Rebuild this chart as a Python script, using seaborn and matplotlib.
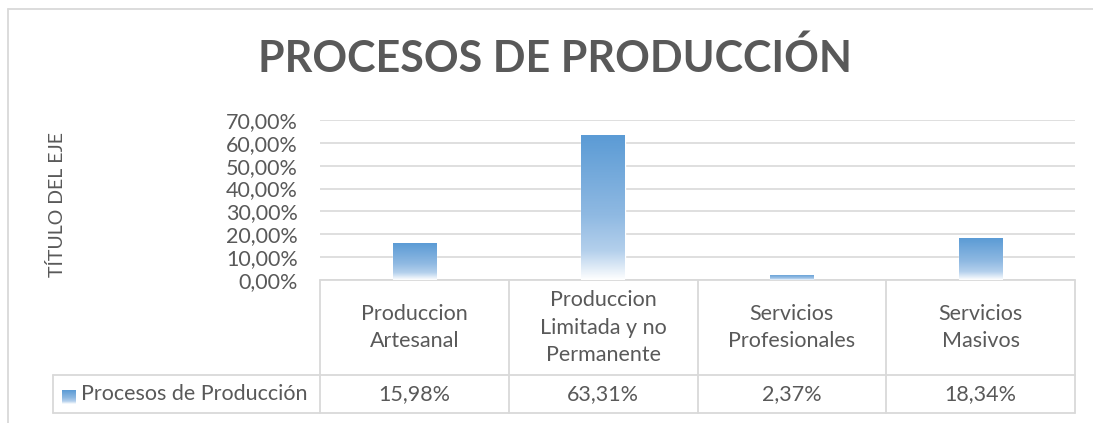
import matplotlib
matplotlib.use("Agg")
import matplotlib.pyplot as plt
import numpy as np
import pandas as pd
import seaborn as sns
from matplotlib.colors import LinearSegmentedColormap
from matplotlib.patches import Rectangle
from matplotlib.ticker import FuncFormatter

categories = ["Produccion\nArtesanal", "Produccion\nLimitada y no\nPermanente",
              "Servicios\nProfesionales", "Servicios\nMasivos"]
values = [0.1598, 0.6331, 0.0237, 0.1834]
value_labels = ["15,98%", "63,31%", "2,37%", "18,34%"]
series_name = "Procesos de Producción"
title = "PROCESOS DE PRODUCCIÓN"
y_title = "TÍTULO DEL EJE"

sns.set_style("white")
plt.rcParams["font.family"] = ["Lato", "DejaVu Sans"]

TEXT = "#595959"
GRID = "#d9d9d9"
BLUE = "#5b9bd5"
grad = LinearSegmentedColormap.from_list(
    "bar", [(0.0, "#ffffff"), (0.2, "#b4d0ec"), (0.45, "#8fb9e2"), (1.0, BLUE)])

W, H = 1093, 423
fig = plt.figure(figsize=(W / 100, H / 100), dpi=100)
ax = fig.add_axes([320 / W, (H - 280) / H, 755 / W, 160 / H])

df = pd.DataFrame({"cat": categories, "val": values})
sns.barplot(data=df, x="cat", y="val", ax=ax, color=BLUE, width=0.23, saturation=1)

# gradient fill clipped to each bar
grad_img = np.linspace(0, 1, 256).reshape(-1, 1)
for bar in ax.patches:
    x0, y0 = bar.get_x(), bar.get_y()
    w, h = bar.get_width(), bar.get_height()
    bar.set_facecolor("none")
    im = ax.imshow(grad_img, cmap=grad, origin="lower", aspect="auto",
                   extent=[x0, x0 + w, y0, y0 + h], zorder=3)
    im.set_clip_path(bar)

ax.set_xlim(-0.5, 3.5)
ax.set_ylim(0, 0.7)
ax.set_yticks(np.arange(0, 0.71, 0.1))
ax.yaxis.set_major_formatter(FuncFormatter(lambda v, _: f"{v * 100:.2f}%".replace(".", ",")))
ax.tick_params(axis="y", labelsize=15.5, labelcolor=TEXT, length=0, pad=16)
ax.set_xticks([])
ax.set_xlabel("")
ax.set_ylabel(y_title, fontsize=14, color=TEXT)
ax.yaxis.set_label_coords((66 - 320) / 755, 0.47)
ax.grid(axis="y", color=GRID, linewidth=1.2)
ax.set_axisbelow(True)
for s in ax.spines.values():
    s.set_visible(False)

# data table below the plot
tr = ax.get_xaxis_transform()
row1 = -95 / 160
row2 = -133 / 160
left_cell = -0.5 - (320 - 53) / (755 / 4)
lkw = dict(color=GRID, lw=1.3, transform=tr, clip_on=False)
ax.plot([-0.5, 3.5], [0, 0], **lkw)
ax.plot([left_cell, 3.5], [row1, row1], **lkw)
ax.plot([left_cell, 3.5], [row2, row2], **lkw)
ax.plot([left_cell, left_cell], [row1, row2], **lkw)
for xb in np.arange(-0.5, 4.0, 1.0):
    ax.plot([xb, xb], [0, row2], **lkw)

for i, (cat, lab) in enumerate(zip(categories, value_labels)):
    ax.text(i, row1 / 2, cat, transform=tr, ha="center", va="center",
            fontsize=15.5, color=TEXT, linespacing=1.45)
    ax.text(i, (row1 + row2) / 2, lab, transform=tr, ha="center", va="center",
            fontsize=15.5, color=TEXT)

# legend key in the table
kx = -0.5 - (320 - 62) / (755 / 4)
kw = 14 / (755 / 4)
key_y0 = (280 - 404) / 160
key_h = 13 / 160
key = Rectangle((kx, key_y0), kw, key_h, transform=tr, facecolor="none",
                edgecolor="none", clip_on=False)
ax.add_patch(key)
kim = ax.imshow(grad_img, cmap=grad, origin="lower", aspect="auto",
                extent=[kx, kx + kw, key_y0, key_y0 + key_h], transform=tr,
                clip_on=False, zorder=3)
kim.set_clip_path(key)
ax.text(-0.5 - (320 - 81) / (755 / 4), (row1 + row2) / 2, series_name,
        transform=tr, ha="left", va="center", fontsize=15.5, color=TEXT)

fig.text(555 / W, 1 - 58 / H, title, ha="center", va="center",
         fontsize=31, fontweight="bold", color=TEXT)

# chart border
fig.add_artist(plt.Line2D([8 / W, 8 / W], [0, 1 - 9 / H], color=GRID, lw=1.3))
fig.add_artist(plt.Line2D([8 / W, 1], [1 - 9 / H, 1 - 9 / H], color=GRID, lw=1.3))

fig.savefig("out.png", dpi=100, facecolor="white")
